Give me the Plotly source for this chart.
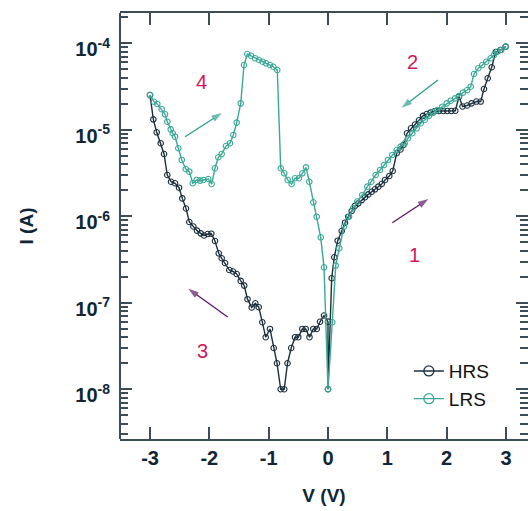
import plotly.graph_objects as go
import math

# ---------------- data ----------------
hrs_v = [-3.000, -2.944, -2.887, -2.820, -2.764, -2.709, -2.646, -2.579, -2.511, -2.456,
         -2.393, -2.338, -2.270, -2.208, -2.146, -2.090, -2.028, -1.967, -1.905, -1.842,
         -1.792, -1.736, -1.664, -1.601, -1.539, -1.471, -1.412, -1.357, -1.286, -1.225,
         -1.168, -1.107, -1.050, -0.978, -0.915, -0.860, -0.797, -0.738, -0.683, -0.620,
         -0.556, -0.501, -0.433, -0.376, -0.312, -0.248, -0.190, -0.135, -0.067, 0.000,
         0.000, 0.062, 0.106, 0.163, 0.231, 0.287, 0.342, 0.399, 0.455, 0.511,
         0.568, 0.624, 0.679, 0.737, 0.792, 0.848, 0.905, 0.961, 1.033, 1.091,
         1.158, 1.222, 1.273, 1.332, 1.399, 1.466, 1.534, 1.601, 1.664, 1.728,
         1.798, 1.871, 1.943, 2.011, 2.078, 2.146, 2.208, 2.267, 2.343, 2.419,
         2.500, 2.574, 2.629, 2.692, 2.759, 2.827, 2.907, 2.995]
hrs_i = [2.52e-5, 1.32e-5, 9.35e-6, 6.98e-6, 5.25e-6, 3.00e-6, 2.51e-6, 2.41e-6, 2.14e-6, 1.61e-6,
         1.23e-6, 8.59e-7, 7.62e-7, 6.82e-7, 6.35e-7, 6.00e-7, 6.24e-7, 6.29e-7, 5.18e-7, 3.73e-7,
         3.27e-7, 2.88e-7, 2.39e-7, 2.30e-7, 2.15e-7, 1.79e-7, 1.58e-7, 1.10e-7, 8.83e-8, 9.86e-8,
         8.89e-8, 5.96e-8, 3.99e-8, 4.98e-8, 3.00e-8, 2.00e-8, 1.00e-8, 1.00e-8, 2.00e-8, 3.00e-8,
         4.00e-8, 4.00e-8, 4.98e-8, 4.98e-8, 4.00e-8, 4.98e-8, 4.98e-8, 6.03e-8, 7.13e-8, 6.05e-8,
         1.00e-8, 1.92e-7, 3.36e-7, 5.22e-7, 6.76e-7, 8.43e-7, 9.89e-7, 1.15e-6, 1.32e-6, 1.41e-6,
         1.54e-6, 1.66e-6, 1.79e-6, 1.92e-6, 2.05e-6, 2.20e-6, 2.36e-6, 2.63e-6, 2.92e-6, 3.34e-6,
         5.35e-6, 5.92e-6, 6.67e-6, 9.12e-6, 1.04e-5, 1.15e-5, 1.29e-5, 1.45e-5, 1.52e-5, 1.58e-5,
         1.64e-5, 1.65e-5, 1.65e-5, 1.65e-5, 1.65e-5, 1.66e-5, 2.42e-5, 1.86e-5, 1.91e-5, 2.02e-5,
         2.12e-5, 2.12e-5, 2.96e-5, 3.94e-5, 5.28e-5, 7.93e-5, 8.37e-5, 9.14e-5]

lrs_v = [-3.000, -2.933, -2.877, -2.803, -2.747, -2.708, -2.651, -2.617, -2.578, -2.523,
         -2.465, -2.398, -2.338, -2.280, -2.213, -2.157, -2.102, -2.018, -1.961, -1.905,
         -1.849, -1.792, -1.719, -1.652, -1.596, -1.539, -1.471, -1.416, -1.360, -1.298,
         -1.230, -1.163, -1.101, -1.045, -0.978, -0.922, -0.855, -0.797, -0.737, -0.679,
         -0.612, -0.556, -0.489, -0.433, -0.371, -0.315, -0.248, -0.190, -0.123, -0.067,
         0.000, 0.072, 0.130, 0.190, 0.270, 0.354, 0.426, 0.494, 0.578, 0.662,
         0.730, 0.804, 0.877, 0.944, 1.011, 1.084, 1.158, 1.225, 1.293, 1.348,
         1.421, 1.495, 1.562, 1.630, 1.702, 1.775, 1.842, 1.926, 2.001, 2.068,
         2.141, 2.208, 2.275, 2.348, 2.405, 2.461, 2.533, 2.601, 2.668, 2.742,
         2.798, 2.854, 2.921, 2.995]
lrs_i = [2.52e-5, 2.11e-5, 1.99e-5, 1.73e-5, 1.51e-5, 1.24e-5, 1.01e-5, 9.12e-6, 8.32e-6, 6.11e-6,
         4.48e-6, 3.52e-6, 3.28e-6, 2.41e-6, 2.63e-6, 2.58e-6, 2.63e-6, 2.70e-6, 2.36e-6, 3.59e-6,
         4.81e-6, 5.25e-6, 6.50e-6, 6.98e-6, 8.71e-6, 1.21e-5, 2.02e-5, 5.61e-5, 7.52e-5, 7.19e-5,
         6.71e-5, 6.41e-5, 6.12e-5, 5.87e-5, 5.61e-5, 5.36e-5, 4.91e-5, 3.59e-6, 3.14e-6, 2.63e-6,
         2.36e-6, 2.75e-6, 2.75e-6, 3.14e-6, 3.68e-6, 2.51e-6, 1.45e-6, 9.89e-7, 5.71e-7, 2.57e-7,
         1.00e-8, 5.96e-8, 2.69e-7, 4.27e-7, 7.59e-7, 9.89e-7, 1.24e-6, 1.48e-6, 1.76e-6, 2.20e-6,
         2.51e-6, 3.00e-6, 3.43e-6, 3.92e-6, 4.48e-6, 5.12e-6, 5.83e-6, 6.38e-6, 6.98e-6, 7.98e-6,
         9.12e-6, 1.04e-5, 1.19e-5, 1.30e-5, 1.45e-5, 1.58e-5, 1.69e-5, 1.85e-5, 2.02e-5, 2.17e-5,
         2.31e-5, 2.46e-5, 2.69e-5, 2.88e-5, 3.15e-5, 4.42e-5, 5.14e-5, 5.61e-5, 6.12e-5, 6.71e-5,
         7.32e-5, 8.00e-5, 8.37e-5, 9.14e-5]

x_ticks = [-3, -2, -1, 0, 1, 2, 3]
x_ticktext = ["-3", "-2", "-1", "0", "1", "2", "3"]
y_exps = [-8, -7, -6, -5, -4]
y_ticks = [10.0 ** e for e in y_exps]
y_ticktext = ["10<sup>%d</sup>" % e for e in y_exps]
y_minor = [k * 10.0 ** e for e in range(-10, -2) for k in range(2, 10)]

# sweep labels (V, I) and direction arrows (tail -> head, in V and I)
labels = ["1", "2", "3", "4"]
label_v = [1.45, 1.42, -2.12, -2.14]
label_i = [3.57e-7, 6.08e-5, 2.77e-8, 3.57e-5]
arrow_tail_v = [1.084, 1.854, -1.691, -2.410]
arrow_tail_i = [8.43e-7, 3.77e-5, 6.85e-8, 8.32e-6]
arrow_head_v = [1.690, 1.240, -2.355, -1.790]
arrow_head_i = [1.58e-6, 1.80e-5, 1.45e-7, 1.56e-5]

# ---------------- styling ----------------
HRS_C = "#1b2f3c"
LRS_C = "#3aa896"
AX_C = "#3c4d58"
TXT_C = "#102638"
PURPLE = "#5b1566"
TEAL_A = "#2a9f8e"
RED = "#d3155e"
FONT = "Liberation Sans, Arial, sans-serif"

fig = go.Figure()
fig.add_trace(go.Scatter(x=hrs_v, y=hrs_i, mode="lines+markers", name="HRS", showlegend=False,
                         line=dict(color=HRS_C, width=1.4),
                         marker=dict(symbol="circle-open", size=5.5, color=HRS_C, line=dict(width=1.1, color=HRS_C))))
fig.add_trace(go.Scatter(x=lrs_v, y=lrs_i, mode="lines+markers", name="LRS", showlegend=False,
                         line=dict(color=LRS_C, width=1.4),
                         marker=dict(symbol="circle-open", size=5.5, color=LRS_C, line=dict(width=1.1, color=LRS_C))))
# legend entries (bigger symbols as in the reference)
for nm, c in [("HRS", HRS_C), ("LRS", LRS_C)]:
    fig.add_trace(go.Scatter(x=[None], y=[None], mode="lines+markers", name=nm,
                             line=dict(color=c, width=1.4),
                             marker=dict(symbol="circle-open", size=10, color=c, line=dict(width=1.3, color=c))))
# direction arrows
arrow_cols = [PURPLE, TEAL_A, PURPLE, TEAL_A]
for tv, ti, hv, hi, c in zip(arrow_tail_v, arrow_tail_i, arrow_head_v, arrow_head_i, arrow_cols):
    fig.add_trace(go.Scatter(x=[tv, hv], y=[ti, hi], mode="lines+markers", showlegend=False, hoverinfo="skip",
                             line=dict(color=c, width=1.3),
                             marker=dict(symbol="arrow", angleref="previous", size=[0, 11], color=c,
                                         line=dict(width=0))))

yr = [math.log10(2.66e-9), math.log10(2.24e-4)]
fig.update_layout(
    width=528, height=511, autosize=False,
    margin=dict(l=120, r=0, t=13, b=72),
    paper_bgcolor="white", plot_bgcolor="white",
    font=dict(family=FONT, color=TXT_C),
    xaxis=dict(range=[-3.506, 3.371], tickmode="array", tickvals=x_ticks, ticktext=x_ticktext,
               ticks="inside", ticklen=12, tickwidth=2, tickcolor=AX_C,
               showline=True, linewidth=2, linecolor=AX_C, mirror="ticks",
               showgrid=False, zeroline=False, tickfont=dict(size=20, color=TXT_C, weight="bold"),
               title=dict(text="V (V)", font=dict(size=19, color=TXT_C, weight="bold"), standoff=21)),
    yaxis=dict(type="log", range=yr, tickmode="array", tickvals=y_ticks, ticktext=y_ticktext,
               ticks="inside", ticklen=12, tickwidth=2, tickcolor=AX_C,
               minor=dict(tickvals=y_minor, ticks="inside", ticklen=8, tickwidth=1.5, tickcolor=AX_C, showgrid=False),
               showline=False, mirror="ticks",
               showgrid=False, zeroline=False, tickfont=dict(size=20, color=TXT_C, weight="bold"),
               ticklabelstandoff=9, ticklabelshift=6,
               title=dict(text="I (A)", font=dict(size=19, color=TXT_C, weight="bold"), standoff=36)),
    legend=dict(x=0.708, y=0.204, xanchor="left", yanchor="top", bgcolor="rgba(0,0,0,0)",
                font=dict(size=19, color="#111111", family=FONT), tracegroupgap=0),
    showlegend=True,
)
# left spine (the right one lies outside the picture in the reference)
fig.add_shape(type="line", xref="paper", yref="paper", x0=0, x1=0, y0=0, y1=1,
              line=dict(color=AX_C, width=2))

for t, v, i in zip(labels, label_v, label_i):
    fig.add_annotation(x=v, y=math.log10(i), xref="x", yref="y", text=t, showarrow=False,
                       font=dict(size=20, color=RED, family=FONT))

fig.write_html("out.html")
